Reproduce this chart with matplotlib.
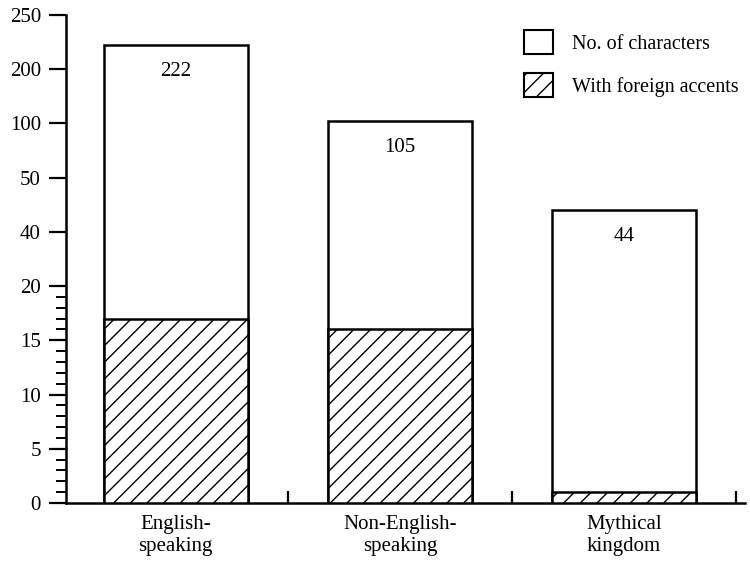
import numpy as np
import matplotlib
matplotlib.use("Agg")
import matplotlib.pyplot as plt
from matplotlib.patches import Patch

# ---- data ----
categories = ["English-\nspeaking", "Non-English-\nspeaking", "Mythical\nkingdom"]
total_chars = [222, 105, 44]
foreign_accents = [17, 16, 1]
ytick_values = [0, 5, 10, 15, 20, 40, 50, 100, 200, 250]
minor_values = [v for v in range(1, 20) if v % 5 != 0]
legend_labels = ["No. of characters", "With foreign accents"]

plt.rcParams["font.family"] = ["Liberation Serif", "DejaVu Serif"]
plt.rcParams["hatch.linewidth"] = 1.0

tv = np.array(ytick_values, dtype=float)
ti = np.arange(len(tv), dtype=float)


def fwd(v):
    return np.interp(v, tv, ti)


def inv(i):
    return np.interp(i, ti, tv)


fig = plt.figure(figsize=(7.5, 5.69), dpi=100)
ax = fig.add_axes([66 / 750, 66 / 569, 679 / 750, 488 / 569])
ax.set_yscale("function", functions=(fwd, inv))

x = np.arange(len(categories))
w = 0.64
ax.bar(x, total_chars, width=w, facecolor="white", edgecolor="black", linewidth=1.8, zorder=2)
ax.bar(x, foreign_accents, width=w, facecolor="white", edgecolor="black", linewidth=1.8,
       hatch="//", zorder=3)

for xi, v in zip(x, total_chars):
    ax.annotate(str(v), xy=(xi, v), xytext=(0, -19), textcoords="offset points",
                ha="center", va="center", fontsize=15)

ax.set_xlim(-0.49, 2.54)
ax.set_ylim(0, 250)

ax.set_yticks(ytick_values)
ax.set_yticklabels([str(v) for v in ytick_values])
ax.set_yticks(minor_values, minor=True)
ax.tick_params(axis="y", which="major", length=12, width=1.6, pad=6, labelsize=15, direction="out")
ax.tick_params(axis="y", which="minor", length=7, width=1.4, direction="out")

ax.set_xticks([0.5, 1.5, 2.5])
ax.set_xticklabels([])
ax.set_xticks(x, minor=True)
ax.set_xticklabels(categories, minor=True)
ax.tick_params(axis="x", which="major", length=9, width=1.6, direction="in")
ax.tick_params(axis="x", which="minor", length=0, pad=9, labelsize=15)

for s in ["top", "right"]:
    ax.spines[s].set_visible(False)
for s in ["left", "bottom"]:
    ax.spines[s].set_linewidth(1.8)

handles = [Patch(facecolor="white", edgecolor="black", linewidth=1.5),
           Patch(facecolor="white", edgecolor="black", linewidth=1.5, hatch="//")]
fig.legend(handles, legend_labels, loc="upper left",
           bbox_to_anchor=(506 / 750, 1 - 12 / 569), frameon=False,
           fontsize=14.5, handlelength=1.45, handleheight=1.45,
           handletextpad=0.95, labelspacing=0.95)

fig.savefig("out.png", dpi=100)
